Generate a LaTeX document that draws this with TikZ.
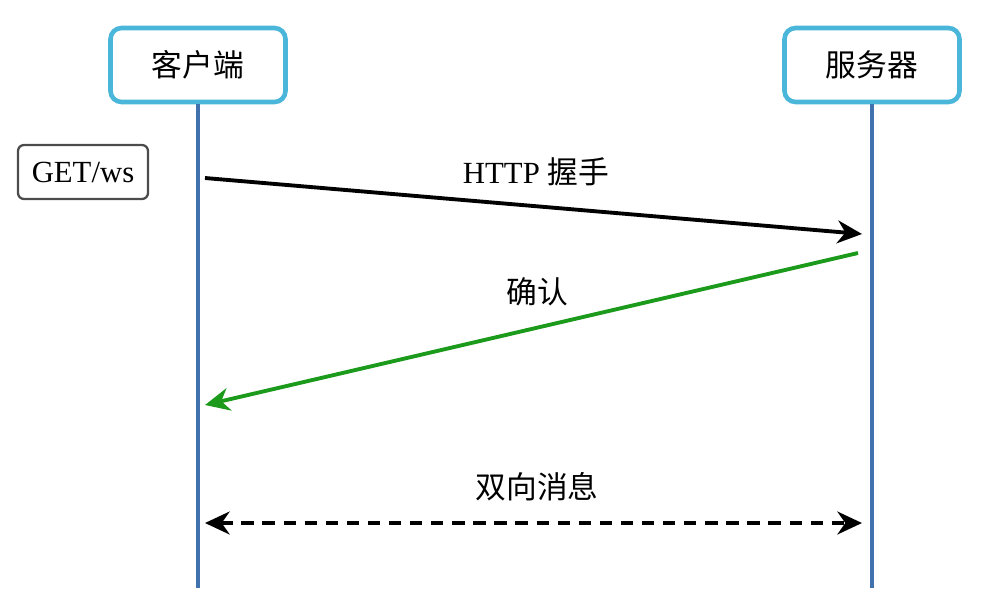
\documentclass[tikz,border=0pt]{standalone}
\usepackage{fontspec}
\setmainfont{Liberation Serif}
\newfontfamily\cjk{Noto Sans CJK SC}
\usetikzlibrary{arrows.meta}

\definecolor{rolblauw}{HTML}{4AB6DA}
\definecolor{lijnblauw}{HTML}{4272AE}
\definecolor{okgroen}{HTML}{1C9A1C}

\begin{document}
\begin{tikzpicture}[x=0.02cm, y=-0.02cm,
    >={Stealth[length=14pt, width=13pt, inset=4.5pt]},
    rol/.style={draw=rolblauw, line width=2.6pt, rounded corners=0.22cm,
      minimum width=3.5cm, minimum height=1.48cm, fill=white,
      font=\fontsize{17.5}{20}\selectfont\cjk},
    levenslijn/.style={draw=lijnblauw, line width=2.3pt},
    bericht/.style={line width=2.2pt, ->},
    tekst/.style={font=\fontsize{17.5}{20}\selectfont}]

    \useasboundingbox (0,0) rectangle (987,596);

    % Deelnemers
    \node[rol] (client) at (198,65) {客户端};
    \node[rol] (server) at (872,65) {服务器};

    % Levenslijnen
    \coordinate (clientend) at (198,588);
    \coordinate (serverend) at (872,588);
    \draw[levenslijn] (client.south) -- (clientend);
    \draw[levenslijn] (server.south) -- (serverend);

    % Verzoek
    \node[draw=black!70, line width=1.3pt, rounded corners=0.12cm,
      minimum width=2.6cm, minimum height=1.08cm, tekst] (get) at (83,172) {GET/ws};

    % Eindpunten van de berichten
    \coordinate (h1) at (205,178);
    \coordinate (h2) at (862,234);
    \coordinate (b1) at (858,253);
    \coordinate (b2) at (205,405);
    \coordinate (d1) at (205,523);
    \coordinate (d2) at (862,523);

    % Handdruk
    \draw[bericht] (h1) -- (h2);
    \node[tekst] (hlabel) at (536,172) {HTTP {\cjk 握手}};

    % Bevestiging
    \draw[bericht, draw=okgroen, fill=okgroen] (b1) -- (b2);
    \node[tekst] (blabel) at (537,292) {\cjk 确认};

    % Berichten in beide richtingen
    \draw[<->, line width=2.2pt, dash pattern=on 7pt off 5pt] (d1) -- (d2);
    \node[tekst] (dlabel) at (537,487) {\cjk 双向消息};

\end{tikzpicture}
\end{document}
